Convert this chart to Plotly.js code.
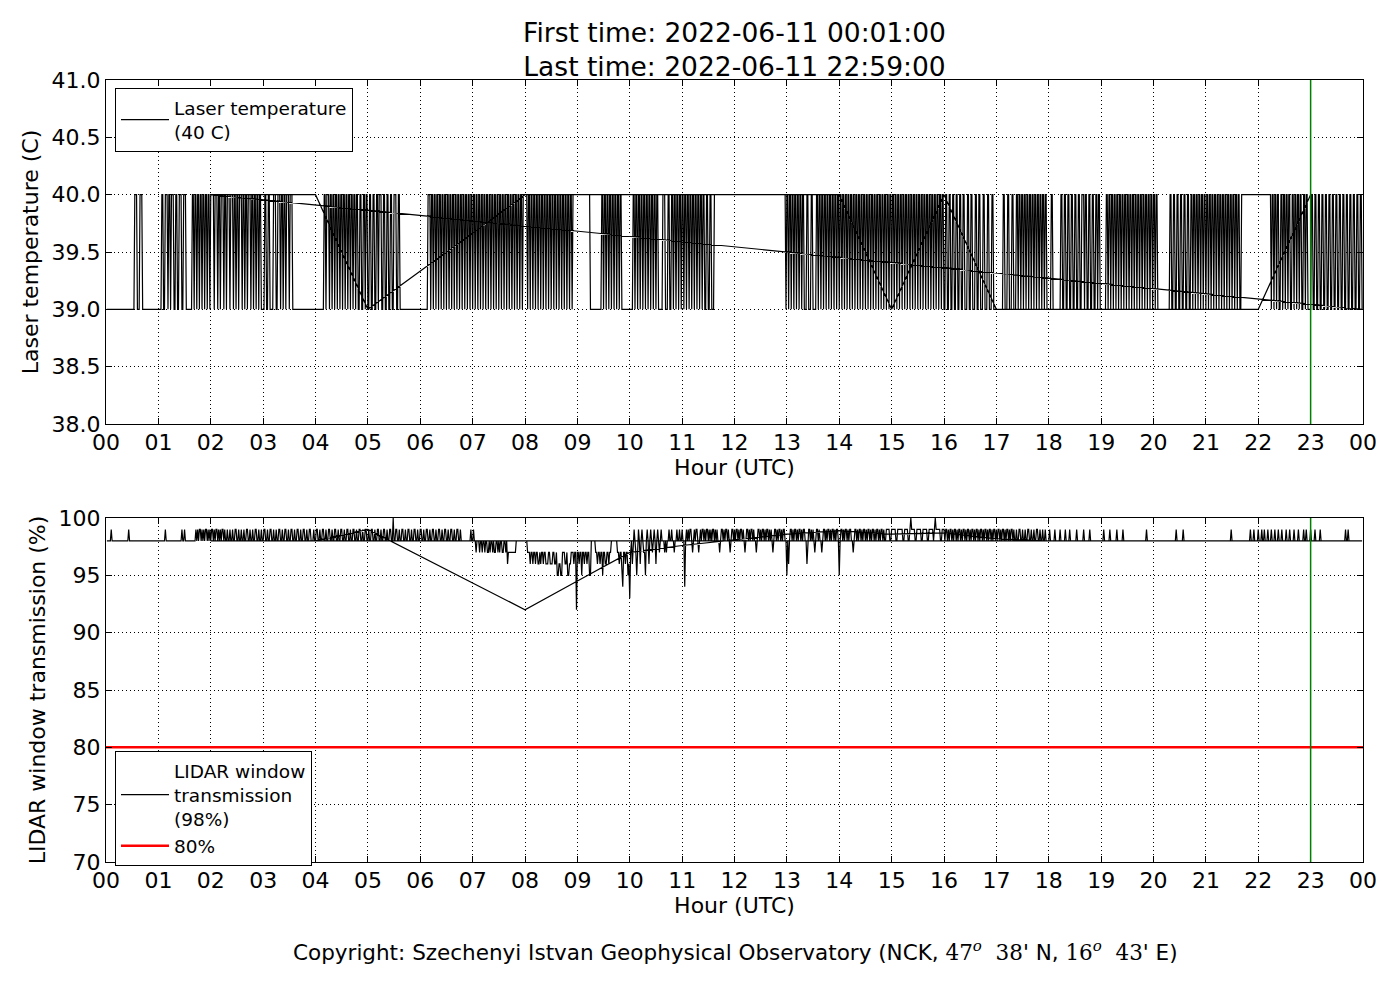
<!DOCTYPE html>
<html>
<head>
<meta charset="utf-8">
<script src="https://cdn.plot.ly/plotly-3.0.1.min.js"></script>
<style>body{margin:0;background:#fff}</style>
</head>
<body>
<div id="plot_status" style="width:1400px;height:1000px"></div>
<script>
// minutes of the day, 00:01 .. 23:59
var firstMinute = 1;
var lastMinute = 1439;
var markerHour = 23;        // green line
var lidarLimit = 80;        // red line

var hourLabels = ['00','01','02','03','04','05','06','07','08','09','10','11',
                  '12','13','14','15','16','17','18','19','20','21','22','23','00'];

// laser temperature: 39 C, minutes [start, end] where it reads 40 C
var laserLow = 39, laserHigh = 40;
var laserAt40 = [
  [33,35],[39,41],
  [64,65],[68,70],[72,73],[75,77],[80,81],[84,86],[89,91],[99,100],[102,103],[105,106],[108,109],[111,112],[114,115],[117,118],
  [120,123],[125,127],[129,130],[132,134],[136,137],[139,141],[143,145],[147,148],[150,151],[153,155],[157,158],[160,161],[163,165],[167,168],[170,171],[173,174],[176,177],
  [182,183],[186,187],[192,194],[197,199],[201,202],[204,205],[207,209],[211,213],
  [250,251],[253,255],[257,258],[260,261],[263,264],[266,267],[269,270],[272,273],[275,276],[278,279],[281,282],[284,285],[287,288],[291,292],[295,296],[298,299],
  [302,303],[306,307],[310,311],[313,315],[318,319],[322,323],[326,327],[330,332],[335,336],
  [369,371],[373,374],[376,377],[379,380],[382,383],[385,386],[388,389],[391,392],[394,395],[397,398],[400,401],[403,404],[406,407],[409,410],[412,413],[415,416],[418,419],
  [421,422],[424,425],[427,428],[430,431],[433,434],[436,437],[439,440],[442,443],[445,446],[448,449],[451,452],[454,455],[457,458],[460,461],[463,464],[466,467],[469,470],[472,473],[475,476],
  [478,482],[484,485],[487,488],[490,491],[493,494],[496,497],[499,500],[502,503],[505,506],[508,509],[511,512],[514,515],[517,518],[520,521],[523,524],[526,527],[529,530],[532,533],[535,554],
  [568,569],[571,572],[574,575],[577,578],[580,581],[583,584],[586,587],[589,590],
  [604,605],[607,608],[610,611],[613,614],[616,617],[619,620],[622,623],[625,626],[628,629],[631,632],[638,640],[644,645],[648,649],[651,652],[654,655],[657,658],
  [660,661],[663,664],[666,667],[669,670],[672,673],[675,676],[678,679],[681,682],[684,685],[688,689],[692,693],[697,778],
  [780,781],[783,784],[786,787],[789,790],[792,793],[795,796],[798,799],[803,804],[808,809],[814,815],[817,818],[820,821],[823,824],[826,827],[829,830],[832,833],[835,836],[838,839],
  [841,842],[844,845],[847,848],[850,851],[853,854],[856,857],[859,860],[862,863],[865,866],[868,869],[871,872],[874,875],[877,878],[880,881],[883,884],[886,887],[889,890],[892,893],[895,896],[898,899],
  [901,902],[904,905],[907,908],[910,911],[913,914],[916,917],[919,920],[922,923],[925,926],[928,929],[931,932],[934,935],[937,938],[940,941],[943,944],[946,947],[949,950],[952,953],[955,956],[958,959],
  [962,963],[966,967],[970,971],[974,975],[978,979],[982,983],[987,988],[991,992],[996,997],[1000,1001],[1005,1006],[1010,1011],[1015,1016],
  [1028,1029],[1033,1034],[1038,1039],[1043,1044],[1046,1047],[1049,1050],[1052,1053],[1055,1056],[1058,1059],[1061,1062],[1064,1065],[1067,1068],[1070,1071],[1073,1074],[1076,1077],
  [1083,1084],[1094,1095],[1098,1099],[1102,1103],[1106,1107],[1110,1111],[1114,1115],[1118,1120],[1122,1123],[1126,1127],[1130,1131],[1134,1135],[1137,1138],
  [1146,1147],[1149,1150],[1152,1153],[1155,1156],[1158,1159],[1161,1162],[1164,1165],[1167,1168],[1170,1171],[1173,1174],[1176,1177],[1179,1180],[1182,1183],[1185,1186],[1188,1189],[1191,1192],[1194,1195],[1197,1198],[1200,1201],[1203,1204],
  [1219,1220],[1223,1224],[1227,1228],[1231,1232],[1235,1236],[1239,1240],[1243,1244],[1246,1247],[1249,1250],[1252,1253],[1255,1256],[1258,1259],
  [1261,1262],[1264,1265],[1267,1268],[1270,1271],[1273,1274],[1276,1277],[1279,1280],[1282,1283],[1285,1286],[1288,1289],[1291,1292],[1294,1295],[1297,1298],[1301,1334],
  [1336,1337],[1339,1340],[1342,1343],[1346,1347],[1349,1350],[1352,1353],[1355,1356],[1359,1360],[1362,1363],[1365,1366],[1368,1369],[1372,1373],[1375,1376],
  [1381,1382],[1385,1386],[1389,1390],[1393,1394],[1397,1398],[1401,1402],[1405,1406],[1409,1410],[1413,1414],[1417,1418],[1421,1422],[1425,1426],[1429,1430],[1433,1434],[1437,1438]
];

// lidar window: 98 %, minutes [start, end, value] where it reads something else
var lidarBase = 98;
var lidarDev = [
  [6,6,99],[26,26,99],[68,68,99],[87,87,99],[90,90,99],
  [103,103,99],[105,105,99],[107,108,99],[110,110,99],[112,112,99],[114,115,99],[117,117,99],[119,119,99],
  [121,122,99],[124,124,99],[126,127,99],[129,129,99],[131,131,99],[133,134,99],[136,136,99],[139,139,99],[142,142,99],[145,145,99],[148,149,99],[152,152,99],[155,155,99],[158,158,99],[161,162,99],[165,165,99],[168,168,99],[171,172,99],[175,175,99],[178,178,99],
  [181,182,99],[185,185,99],[188,189,99],[192,192,99],[195,195,99],[198,199,99],[202,202,99],[205,206,99],[209,209,99],[212,213,99],[216,216,99],[219,220,99],[223,223,99],[226,227,99],[230,230,99],[233,234,99],
  [238,238,99],[241,242,99],[245,245,99],[248,249,99],[252,252,99],[255,256,99],[259,259,99],[262,263,99],[266,266,99],[269,270,99],[273,273,99],[276,277,99],[280,280,99],[283,284,99],[287,287,99],[290,291,99],[294,294,99],[297,298,99],
  [301,301,99],[304,305,99],[308,308,99],[311,312,99],[315,315,99],[318,319,99],[322,322,99],[325,326,99],[329,329,100],
  [332,333,99],[336,336,99],[339,340,99],[343,343,99],[346,347,99],[350,350,99],[353,354,99],[357,357,99],
  [360,361,99],[364,364,99],[367,368,99],[371,371,99],[374,375,99],[378,378,99],[381,382,99],[385,385,99],[388,389,99],[392,392,99],[395,396,99],[399,399,99],[402,403,99],[406,406,99],
  [418,418,99],[421,421,99],[424,424,97],[428,428,97],[431,431,97],[434,434,97],[437,438,97],[440,440,97],[443,443,97],[445,446,97],[449,449,97],[451,451,97],[454,455,97],[458,458,97],[460,460,96],[461,469,97],
  [483,485,97],[486,486,96],[487,488,97],[489,489,96],[490,491,97],[492,492,96],[493,494,97],[495,496,96],[497,497,97],[498,498,96],[499,500,97],[501,501,96],[502,503,97],[504,506,96],[507,508,97],[509,511,96],
  [512,513,97],[514,515,96],[516,516,97],[517,518,95],[519,520,96],[521,522,95],[523,525,97],[526,527,96],[528,528,97],[529,530,95],[531,532,96],[533,535,97],[536,536,96],[537,538,97],[539,539,92],
  [540,541,97],[542,542,96],[543,544,97],[545,545,95],[546,547,97],[548,548,96],[549,550,97],[551,551,96],[552,553,97],[554,555,95],[561,562,97],[563,563,96],[564,565,97],[566,566,96],[567,568,97],[569,569,95],
  [570,571,97],[572,573,96],[574,575,97],[576,576,96],[577,578,97],[586,587,97],[588,588,96],[589,590,97],[591,591,95],[592,592,94],[593,594,97],[595,595,96],[596,597,97],[598,598,95],[599,599,96],[600,600,93],
  [601,601,97],[603,603,96],[605,605,99],[607,607,97],[608,608,95],[610,610,99],[612,612,96],[614,614,99],[616,617,97],[618,618,95],[620,620,99],[622,622,96],[624,624,99],[626,626,97],[628,628,99],[630,630,96],
  [632,632,99],[634,634,97],[636,636,99],[640,640,97],[642,642,97],[645,645,99],[648,648,99],[651,651,97],[654,654,99],[657,657,99],[660,660,99],[663,663,94],
  [665,665,99],[667,667,99],[669,670,99],[672,672,97],[674,674,99],[676,677,99],[679,679,97],[681,681,99],[683,684,99],[686,686,99],[688,689,99],[691,691,99],[693,693,99],[695,696,99],[698,698,99],
  [700,700,99],[703,703,97],[705,706,99],[708,708,99],[710,711,99],[713,713,99],[715,715,97],[717,718,99],[720,720,99],
  [722,723,99],[725,725,99],[727,728,99],[730,730,99],[732,732,97],[734,735,99],[737,737,99],[739,740,99],[742,742,99],[745,745,97],[747,748,99],[750,750,99],[752,753,99],[755,755,99],[757,758,99],
  [760,760,99],[762,762,99],[764,764,97],[766,767,99],[769,769,99],[771,772,99],[774,774,99],[776,777,99],[780,780,95],[782,782,96],
  [784,785,99],[787,787,99],[789,790,99],[792,792,99],[794,795,99],[797,797,99],[799,800,99],[803,803,96],[805,806,99],[808,808,99],[810,810,99],[812,812,97],[814,815,99],[817,817,99],[820,820,97],
  [822,823,99],[825,825,99],[827,828,99],[830,830,99],[832,833,99],[835,835,99],[837,838,99],[840,840,95],
  [842,843,99],[845,845,99],[847,848,99],[850,850,99],[852,853,99],[856,856,97],[858,859,99],[861,861,99],[863,864,99],[866,866,99],[868,869,99],[871,871,99],[873,874,99],[876,876,99],[878,879,99],
  [881,881,99],[883,884,99],[886,886,99],[888,889,99],[891,891,99],[894,897,99],
  [900,904,99],[907,912,99],[915,918,99],[921,921,99],[922,922,100],[923,926,99],[929,933,99],[936,940,99],[943,947,99],[949,949,99],[950,950,100],[951,955,99],[958,960,99],
  [962,963,99],[965,965,99],[967,968,99],[970,970,99],[972,973,99],[975,975,99],[977,978,99],[980,980,99],[982,983,99],[985,985,99],[987,988,99],[990,990,99],[992,993,99],[995,995,99],[997,998,99],
  [1000,1000,99],[1002,1003,99],[1005,1005,99],[1007,1008,99],[1010,1010,99],[1012,1013,99],[1015,1015,99],[1017,1018,99],
  [1020,1020,99],[1022,1023,99],[1025,1025,99],[1027,1028,99],[1030,1030,99],[1032,1033,99],[1035,1035,99],[1037,1038,99],[1040,1040,99],[1043,1043,99],[1046,1047,99],[1050,1050,99],[1053,1053,99],
  [1056,1057,99],[1060,1060,99],[1063,1063,99],[1066,1067,99],[1070,1070,99],[1073,1073,99],[1076,1076,99],
  [1081,1081,99],[1087,1087,99],[1093,1093,99],[1099,1099,99],[1104,1104,99],[1112,1112,99],[1120,1120,99],[1127,1127,99],
  [1143,1143,99],[1150,1150,99],[1158,1158,99],[1165,1165,99],[1192,1192,99],[1226,1226,99],[1234,1234,99],
  [1289,1289,99],[1311,1311,99],[1315,1315,99],[1320,1320,99],[1324,1324,99],[1327,1327,99],[1331,1331,99],[1335,1335,99],[1339,1339,99],[1343,1343,99],[1347,1347,99],
  [1352,1352,99],[1356,1356,99],[1361,1361,99],[1366,1366,99],[1372,1372,99],[1375,1375,99],[1380,1380,99],[1385,1385,99],[1391,1391,99],[1420,1420,99],[1423,1423,99]
];

// hourly records appended after the minute data in the file
var hourlyHours = [2,3,4,5,8,9,10,11,12,13,14,15,16,17,18,19,20,21,22,23];
var hourlyLaser = [40,40,40,39,40,40,40,40,40,40,40,39,40,39,39,39,39,39,39,40];
var hourlyLidar = [98,98,98,99,92,94.5,97,97.6,98.1,98.6,98.9,98.6,98.7,98.2,98,98,98,98,98,98];

// turn [start,end,value] runs into a line through the minute samples
function runsToLine(runs, base, hourly) {
	var x = [], y = [];
	var t = firstMinute;
	for (var i = 0; i < runs.length; i++) {
		var r = runs[i];
		if (r[0] - 1 >= t) {
			x.push(t, r[0] - 1);
			y.push(base, base);
		}
		x.push(r[0], r[1]);
		y.push(r[2], r[2]);
		t = r[1] + 1;
	}
	x.push(t, lastMinute);
	y.push(base, base);
	for (var j = 0; j < hourlyHours.length; j++) {
		x.push(hourlyHours[j] * 60);
		y.push(hourly[j]);
	}
	return {x: x, y: y};
}

var laserRuns = laserAt40.map(function (iv) { return [iv[0], iv[1], laserHigh]; });
var laserLine = runsToLine(laserRuns, laserLow, hourlyLaser);
var lidarLine = runsToLine(lidarDev, lidarBase, hourlyLidar);

var traceLaser = {
	x: laserLine.x, y: laserLine.y,
	xaxis: 'x', yaxis: 'y',
	type: 'scatter', mode: 'lines',
	line: {color: 'black', width: 1.2},
	name: 'Laser temperature<br>(40 C)',
	legend: 'legend'
};
var traceLidar = {
	x: lidarLine.x, y: lidarLine.y,
	xaxis: 'x2', yaxis: 'y2',
	type: 'scatter', mode: 'lines',
	line: {color: 'black', width: 1.2},
	name: 'LIDAR window<br>transmission<br>(98%)',
	legend: 'legend2'
};
var traceLimit = {
	x: [0, 1440], y: [lidarLimit, lidarLimit],
	xaxis: 'x2', yaxis: 'y2',
	type: 'scatter', mode: 'lines',
	line: {color: '#ff0000', width: 2.5},
	name: '80%',
	legend: 'legend2'
};

var W = 1400, H = 1000;
var xDom = [106 / W, 1363 / W];
var tickMin = hourLabels.map(function (l, i) { return i * 60; });

function axis(extra) {
	var a = {
		showline: true, linecolor: 'black', linewidth: 1.2, mirror: 'allticks',
		ticks: 'inside', ticklen: 6, tickwidth: 1, tickcolor: 'black',
		showgrid: true, gridcolor: 'black', griddash: '1px,3px', gridwidth: 1,
		zeroline: false, automargin: false,
		tickfont: {size: 22, color: 'black'}
	};
	for (var k in extra) a[k] = extra[k];
	return a;
}

var xCommon = {
	range: [0, 1440], tickvals: tickMin, ticktext: hourLabels,
	domain: xDom, ticklabelstandoff: -2,
	title: {text: 'Hour (UTC)', font: {size: 22, color: 'black'}, standoff: 4}
};

var legendStyle = {
	x: 115 / W, xanchor: 'left', yanchor: 'top',
	bgcolor: 'white', bordercolor: 'black', borderwidth: 1,
	itemwidth: 48, font: {size: 18.5, color: 'black'}
};

var layout = {
	width: W, height: H,
	margin: {l: 0, r: 0, t: 0, b: 0},
	paper_bgcolor: 'white', plot_bgcolor: 'white',
	font: {family: 'DejaVu Sans', color: 'black'},
	title: {
		text: 'First time: 2022-06-11 00:01:00<br>Last time: 2022-06-11 22:59:00',
		font: {size: 26.5, color: 'black'},
		x: 734.5 / W, xanchor: 'center', xref: 'paper',
		y: 1 - 42 / H, yanchor: 'middle', yref: 'container'
	},
	showlegend: true,
	xaxis: axis(Object.assign({anchor: 'y'}, xCommon)),
	yaxis: axis({
		anchor: 'x', domain: [1 - 424 / H, 1 - 80 / H],
		range: [38, 41], dtick: 0.5, tickformat: '.1f',
		title: {text: 'Laser temperature (C)', font: {size: 22, color: 'black'}, standoff: 6}
	}),
	xaxis2: axis(Object.assign({anchor: 'y2'}, xCommon)),
	yaxis2: axis({
		anchor: 'x2', domain: [1 - 862 / H, 1 - 518 / H],
		range: [70, 100], dtick: 5,
		title: {text: 'LIDAR window transmission (%)', font: {size: 22, color: 'black'}, standoff: 6}
	}),
	legend: Object.assign({y: 1 - 88 / H}, legendStyle),
	legend2: Object.assign({y: 1 - 751 / H, tracegroupgap: 0}, legendStyle),
	shapes: [
		{type: 'line', xref: 'x', yref: 'y domain', x0: markerHour * 60, x1: markerHour * 60, y0: 0, y1: 1,
		 line: {color: 'green', width: 1.5}},
		{type: 'line', xref: 'x2', yref: 'y2 domain', x0: markerHour * 60, x1: markerHour * 60, y0: 0, y1: 1,
		 line: {color: 'green', width: 1.5}}
	],
	annotations: [{
		xref: 'paper', yref: 'paper', x: 735 / W, y: 1 - 951 / H,
		xanchor: 'center', yanchor: 'middle', showarrow: false,
		font: {size: 21.5, color: 'black'},
		text: "Copyright: Szechenyi Istvan Geophysical Observatory (NCK, " +
			"<span style=\"font-family:'DejaVu Serif'\">47<sup><i>o</i></sup>  38</span>' N, " +
			"<span style=\"font-family:'DejaVu Serif'\">16<sup><i>o</i></sup>  43</span>' E)"
	}]
};

Plotly.newPlot('plot_status', [traceLaser, traceLidar, traceLimit], layout, {staticPlot: true});
</script>
</body>
</html>
